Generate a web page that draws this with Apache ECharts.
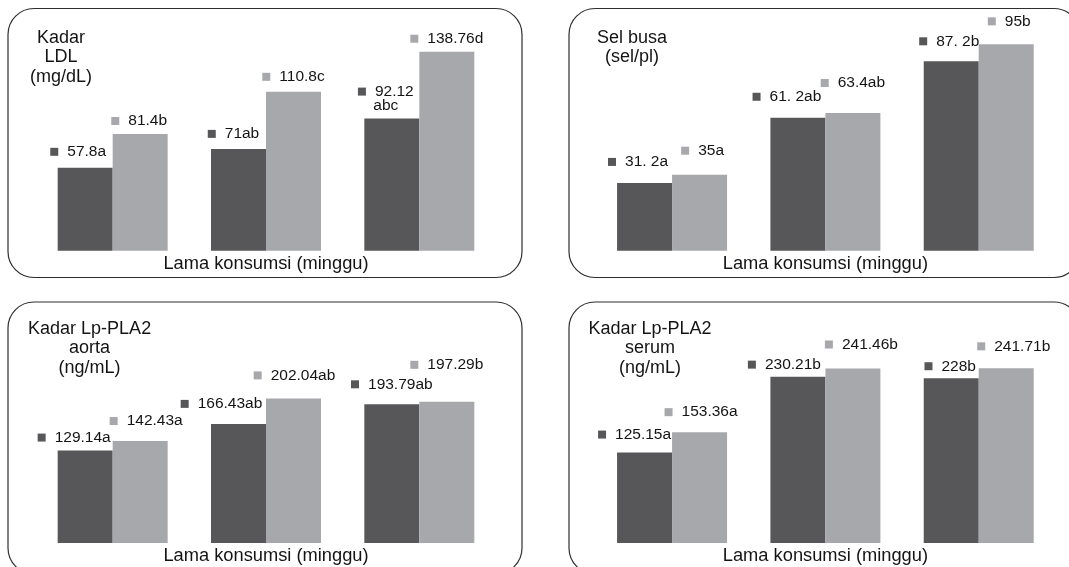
<!DOCTYPE html>
<html>
<head>
<meta charset="utf-8">
<script src="https://cdn.jsdelivr.net/npm/echarts@6/dist/echarts.min.js"></script>
<style>
  html, body { margin: 0; padding: 0; background: #ffffff; }
  #chart { width: 1069px; height: 567px; }
</style>
</head>
<body>
<div id="chart"></div>
<script>
// Three consumption periods per panel (category labels are not shown)
const periods = ['P1', 'P2', 'P3'];

// LDL level (mg/dL)
const ldlDark  = [57.8, 71, 92.12];
const ldlLight = [81.4, 110.8, 138.76];
const ldlDarkSig  = ['a', 'ab', 'abc'];
const ldlLightSig = ['b', 'c', 'd'];

// Foam cells (sel/pl)
const foamDark  = [31.2, 61.2, 87.2];
const foamLight = [35, 63.4, 95];
const foamDarkSig  = ['a', 'ab', 'b'];
const foamLightSig = ['a', 'ab', 'b'];

// Lp-PLA2 in aorta (ng/mL)
const aortaDark  = [129.14, 166.43, 193.79];
const aortaLight = [142.43, 202.04, 197.29];
const aortaDarkSig  = ['a', 'ab', 'ab'];
const aortaLightSig = ['a', 'ab', 'b'];

// Lp-PLA2 in serum (ng/mL)
const serumDark  = [125.15, 230.21, 228];
const serumLight = [153.36, 241.46, 241.71];
const serumDarkSig  = ['a', 'b', 'b'];
const serumLightSig = ['a', 'b', 'b'];

const xName = 'Lama konsumsi (minggu)';

const DARK = '#575759';
const LIGHT = '#a7a8ab';
const TEXT = '#141414';
const FONT = '"Liberation Sans", Arial, Helvetica, sans-serif';

// Number formats: foam-cell dark values are written as "31. 2"
const plain = v => String(v);
const spaced = v => v.toFixed(1).replace('.', '. ');

const panels = [
  {
    dark: ldlDark, light: ldlLight, sigD: ldlDarkSig, sigL: ldlLightSig,
    fmtD: plain, fmtL: plain, breakD: [false, false, true], breakL: [false, false, false],
    title: 'Kadar\nLDL\n(mg/dL)', titleX: 61, titleY: 28,
    grid: { left: 36, width: 460, base: 250.7 }, max: 160, scale: 1.434,
    box: { x: 8, y: 8.5, w: 514, h: 269 },
    offD: [[-7, -2], [-5, -1], [-6, -1]],
    offL: [[-1, 1], [0, -1], [0, 1]]
  },
  {
    dark: foamDark, light: foamLight, sigD: foamDarkSig, sigL: foamLightSig,
    fmtD: spaced, fmtL: plain, breakD: [false, false, false], breakL: [false, false, false],
    title: 'Sel busa\n(sel/pl)', titleX: 632, titleY: 28,
    grid: { left: 595.4, width: 460, base: 250.7 }, max: 100, scale: 2.172,
    box: { x: 569, y: 8.5, w: 511, h: 269 },
    offD: [[-6.5, -7], [-11, -7], [-2, -6]],
    offL: [[3, -10], [0, -16], [3, -9]]
  },
  {
    dark: aortaDark, light: aortaLight, sigD: aortaDarkSig, sigL: aortaLightSig,
    fmtD: plain, fmtL: plain, breakD: [false, false, false], breakL: [false, false, false],
    title: 'Kadar Lp-PLA2\naorta\n(ng/mL)', titleX: 89.6, titleY: 319,
    grid: { left: 36, width: 460, base: 544.3 }, max: 300, scale: 0.72,
    box: { x: 8, y: 302, w: 514, h: 272 },
    offD: [[-11, 1], [-17, -6], [0, -6]],
    offL: [[6, -6], [1, -9], [0, -23]]
  },
  {
    dark: serumDark, light: serumLight, sigD: serumDarkSig, sigL: serumLightSig,
    fmtD: plain, fmtL: plain, breakD: [false, false, false], breakL: [false, false, false],
    title: 'Kadar Lp-PLA2\nserum\n(ng/mL)', titleX: 650, titleY: 319,
    grid: { left: 595.4, width: 460, base: 544.3 }, max: 300, scale: 0.727,
    box: { x: 569, y: 302, w: 511, h: 272 },
    offD: [[-10, -4], [-13.5, 2], [-1, 2]],
    offL: [[1.5, -6], [8.5, -10], [7.5, -8]]
  }
];

function richFor(color) {
  return {
    sq: { width: 8, height: 8, backgroundColor: color },
    gap: { width: 9 },
    v: { fontSize: 15.5, lineHeight: 18, color: TEXT, fontFamily: FONT },
    w: { fontSize: 15.5, lineHeight: 14, color: TEXT, fontFamily: FONT }
  };
}

function barSeries(k, values, sig, fmt, breaks, offsets, color) {
  return {
    type: 'bar',
    xAxisIndex: k,
    yAxisIndex: k,
    barWidth: 55,
    barGap: '0%',
    itemStyle: { color: color },
    data: values.map((v, i) => ({ value: v, label: { offset: offsets[i] } })),
    label: {
      show: true,
      position: 'top',
      distance: 5,
      formatter: p => {
        const i = p.dataIndex;
        const num = fmt(values[i]);
        // a long label wraps its letter notation onto a second line
        return breaks[i]
          ? '{sq| }{gap| }{w|' + num + '}\n{w|' + sig[i] + '}'
          : '{sq| }{gap| }{v|' + num + sig[i] + '}';
      },
      rich: richFor(color)
    },
    emphasis: { disabled: true },
    animation: false
  };
}

const grids = [], xAxes = [], yAxes = [], series = [], titles = [], frames = [];

panels.forEach((p, k) => {
  const h = p.max * p.scale;
  grids.push({ left: p.grid.left, width: p.grid.width, top: p.grid.base - h, height: h });
  xAxes.push({
    type: 'category', gridIndex: k, data: periods,
    axisLine: { show: false }, axisTick: { show: false }, axisLabel: { show: false },
    name: xName, nameLocation: 'middle', nameGap: 3,
    nameTextStyle: { fontSize: 18.3, color: TEXT, fontFamily: FONT, verticalAlign: 'top', lineHeight: 20 }
  });
  yAxes.push({ type: 'value', gridIndex: k, min: 0, max: p.max, show: false });
  series.push(barSeries(k, p.dark, p.sigD, p.fmtD, p.breakD, p.offD, DARK));
  series.push(barSeries(k, p.light, p.sigL, p.fmtL, p.breakL, p.offL, LIGHT));
  titles.push({
    text: p.title, left: p.titleX, top: p.titleY, padding: 0, textAlign: 'center',
    textStyle: { fontSize: 18, lineHeight: 19.5, fontWeight: 'normal', color: TEXT, fontFamily: FONT }
  });
  frames.push({
    type: 'rect', z: -1, silent: true,
    shape: { x: p.box.x, y: p.box.y, width: p.box.w, height: p.box.h, r: 26 },
    style: { fill: 'none', stroke: '#2e2e2e', lineWidth: 1.2 }
  });
});

const chart = echarts.init(document.getElementById('chart'), null, { renderer: 'canvas' });
chart.setOption({
  backgroundColor: '#ffffff',
  animation: false,
  title: titles,
  grid: grids,
  xAxis: xAxes,
  yAxis: yAxes,
  series: series,
  graphic: frames
});
</script>
</body>
</html>
